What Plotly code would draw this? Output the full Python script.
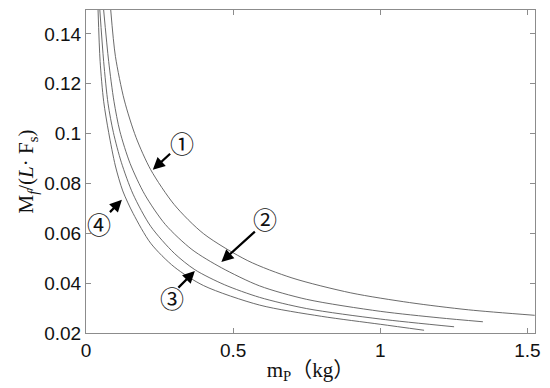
import plotly.graph_objects as go

# ---- data ----
curve1_x = [0.084, 0.10, 0.13, 0.17, 0.22, 0.30, 0.40, 0.55, 0.70, 0.90, 1.10, 1.30, 1.525]
curve1_y = [0.1496, 0.131, 0.1135, 0.0985, 0.0855, 0.0715, 0.0598, 0.0490, 0.0421, 0.0361, 0.0322, 0.0293, 0.0271]

curve2_x = [0.060, 0.077, 0.095, 0.115, 0.15, 0.20, 0.27, 0.36, 0.46, 0.59, 0.75, 1.0, 1.2, 1.349]
curve2_y = [0.1496, 0.129, 0.113, 0.101, 0.088, 0.0755, 0.0635, 0.0535, 0.0462, 0.0389, 0.0335, 0.0287, 0.0261, 0.0245]

curve3_x = [0.047, 0.060, 0.075, 0.093, 0.12, 0.16, 0.22, 0.30, 0.37, 0.47, 0.59, 0.75, 1.0, 1.251]
curve3_y = [0.1496, 0.129, 0.112, 0.1005, 0.0885, 0.0757, 0.0628, 0.052, 0.0454, 0.0394, 0.0343, 0.0298, 0.0256, 0.0225]

curve4_x = [0.041, 0.048, 0.060, 0.077, 0.10, 0.125, 0.16, 0.22, 0.30, 0.40, 0.59, 0.80, 1.0, 1.149]
curve4_y = [0.1496, 0.129, 0.113, 0.1005, 0.087, 0.077, 0.068, 0.056, 0.0465, 0.039, 0.0312, 0.0267, 0.0235, 0.0211]

labels = ["①", "②", "③", "④"]
x_ticks = [0, 0.5, 1, 1.5]
x_tick_text = ["0", "0.5", "1", "1.5"]
y_ticks = [0.02, 0.04, 0.06, 0.08, 0.1, 0.12, 0.14]
y_tick_text = ["0.02", "0.04", "0.06", "0.08", "0.1", "0.12", "0.14"]

fig = go.Figure()
line_style = dict(color="#5a5a5a", width=0.9, shape="spline", smoothing=0.8)
for xs, ys in [(curve1_x, curve1_y), (curve2_x, curve2_y), (curve3_x, curve3_y), (curve4_x, curve4_y)]:
    fig.add_trace(go.Scatter(x=xs, y=ys, mode="lines", line=line_style, showlegend=False, hoverinfo="skip"))

# label positions / arrows (layout, in data units)
label_pos = [(0.327, 0.0965), (0.610, 0.0659), (0.292, 0.0344), (0.043, 0.0639)]
arrow_tail = [(0.291, 0.0925), (0.579, 0.0612), (0.309, 0.0376), (0.0765, 0.0679)]
arrow_tip = [(0.227, 0.0855), (0.460, 0.0485), (0.370, 0.0449), (0.122, 0.0735)]

ann = []
for lab, (lx, ly) in zip(labels, label_pos):
    ann.append(dict(x=lx, y=ly, xref="x", yref="y", text=lab, showarrow=False,
                    font=dict(family="Noto Sans CJK SC", size=24, color="#111")))
for (tx, ty), (hx, hy) in zip(arrow_tail, arrow_tip):
    ann.append(dict(x=hx, y=hy, ax=tx, ay=ty, xref="x", yref="y", axref="x", ayref="y",
                    text="", showarrow=True, arrowhead=2, arrowsize=1.1, arrowwidth=2.2,
                    arrowcolor="#000"))

axis_common = dict(showline=True, linecolor="#8c8c8c", linewidth=1, mirror="ticks",
                   ticks="inside", ticklen=5, tickcolor="#8c8c8c", showgrid=False,
                   zeroline=False, tickfont=dict(family="Liberation Sans", size=19, color="#111"))

fig.update_layout(
    width=550, height=388,
    margin=dict(l=86, r=13, t=9, b=55),
    paper_bgcolor="white", plot_bgcolor="white",
    xaxis=dict(range=[0, 1.526], tickvals=x_ticks, ticktext=x_tick_text,
               title=dict(text="m<sub>P</sub>（kg）", standoff=2,
                          font=dict(family="Liberation Serif, Noto Sans CJK SC", size=21, color="#111")),
               **axis_common),
    yaxis=dict(range=[0.02, 0.1496], tickvals=y_ticks, ticktext=y_tick_text,
               title=dict(text="M<sub><i>f</i></sub>/(<i>L</i>· F<sub>s</sub>)", standoff=4,
                          font=dict(family="Liberation Serif", size=21, color="#111")),
               **axis_common),
    annotations=ann,
)

fig.write_html("out.html", config={"displayModeBar": False},
               post_script="document.body.style.margin='0px';")
